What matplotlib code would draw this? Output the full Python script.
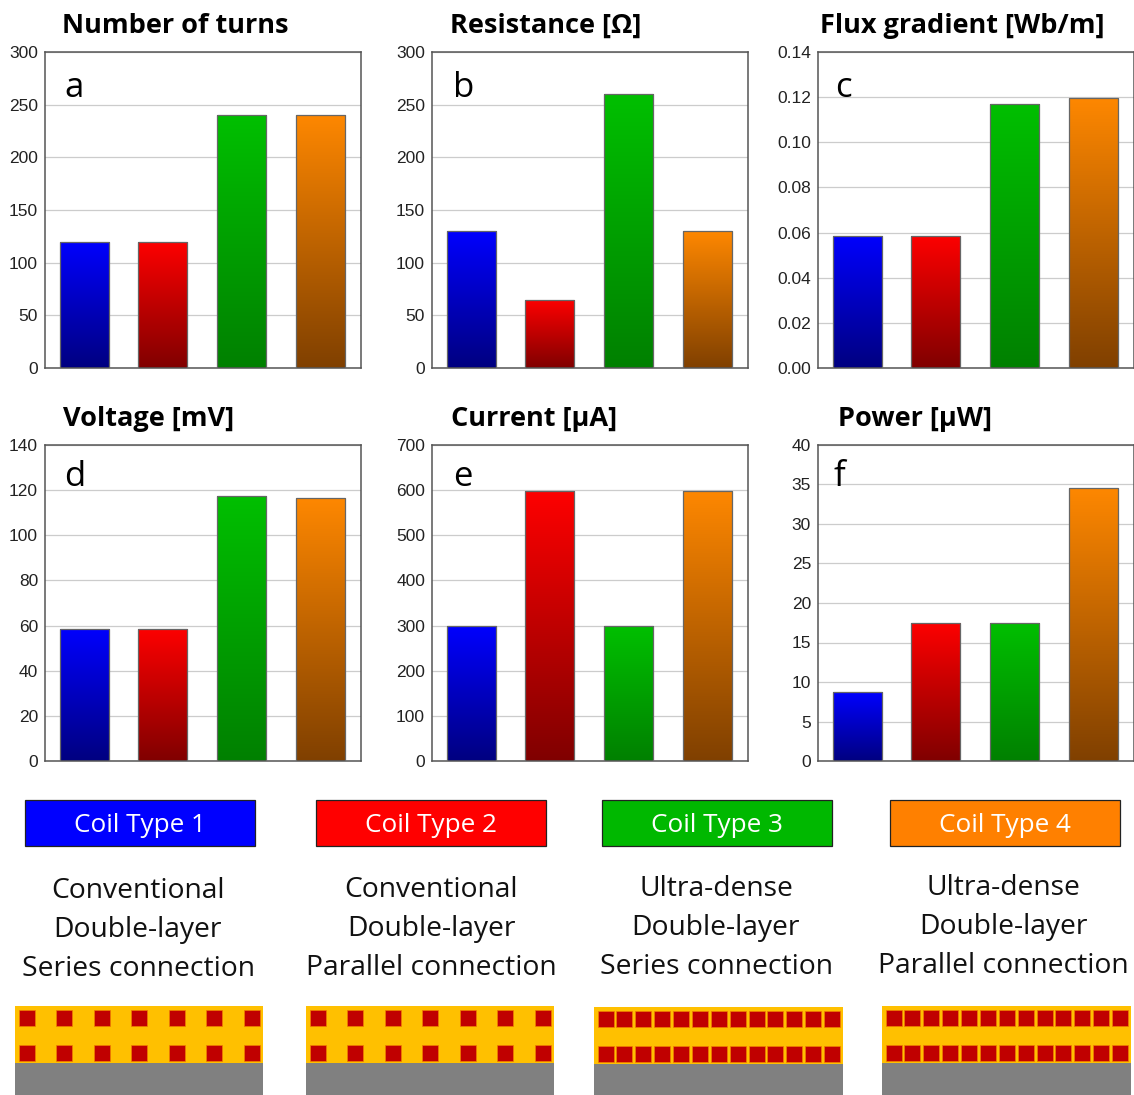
import matplotlib
matplotlib.use("Agg")
import matplotlib.pyplot as plt
import numpy as np
from matplotlib.colors import LinearSegmentedColormap
from matplotlib.patches import Rectangle

W, H = 1134, 1095

# ---------------------------------------------------------------------------
# Data
# ---------------------------------------------------------------------------
titles = ["Number of turns", "Resistance [Ω]", "Flux gradient [Wb/m]",
          "Voltage [mV]", "Current [µA]", "Power [µW]"]
letters = ["a", "b", "c", "d", "e", "f"]
turns = [120, 120, 240, 240]
resistance = [130, 65, 260, 130]
flux_gradient = [0.0585, 0.0585, 0.117, 0.1195]
voltage = [58.5, 58.5, 117.5, 116.5]
current = [298, 597, 298, 597]
power = [8.7, 17.5, 17.5, 34.5]
y_max = [300, 300, 0.14, 140, 700, 40]
y_step = [50, 50, 0.02, 20, 100, 5]
y_fmt = ["{:.0f}", "{:.0f}", "{:.2f}", "{:.0f}", "{:.0f}", "{:.0f}"]

coil_names = ["Coil Type 1", "Coil Type 2", "Coil Type 3", "Coil Type 4"]
coil_lines = [["Conventional", "Double-layer", "Series connection"],
              ["Conventional", "Double-layer", "Parallel connection"],
              ["Ultra-dense", "Double-layer", "Series connection"],
              ["Ultra-dense", "Double-layer", "Parallel connection"]]
coil_wires = [7, 7, 13, 13]

bar_top = ["#0000ff", "#ff0000", "#00c000", "#ff8800"]
bar_bottom = ["#000080", "#800000", "#008000", "#804000"]
box_colors = ["#0000ff", "#ff0000", "#00b800", "#ff8000"]

series = [turns, resistance, flux_gradient, voltage, current, power]

# ---------------------------------------------------------------------------
# Layout (pixels)
# ---------------------------------------------------------------------------
ax_x = [45, 432, 818]
ax_y = [52, 445]
ax_w, ax_h = 316, 316
title_x = [62, 450, 820, 63, 451, 838]
title_y = [26, 26, 26, 419, 419, 419]
letter_x = [64, 453, 835, 64, 453, 834]
letter_y = [88, 88, 88, 477, 477, 477]
box_x = [25, 316, 602, 890]
text_x = [138, 431, 716, 1003]
text_y = [891, 890, 889, 888]
sch_x = [15, 306, 594, 882]
sch_y = [1006, 1006, 1007, 1006]
sch_w = [248, 248, 249, 249]
wire_start = [18.5, 309.5, 597.5, 885.5]

fig = plt.figure(figsize=(W / 100, H / 100), dpi=100)

for i, vals in enumerate(series):
    row, col = i // 3, i % 3
    ax = fig.add_axes([ax_x[col] / W, 1 - (ax_y[row] + ax_h) / H, ax_w / W, ax_h / H])
    grad = np.linspace(0, 1, 256).reshape(-1, 1)
    xs = np.arange(4)
    bars = ax.bar(xs, vals, width=0.625, facecolor="none", edgecolor="#666666",
                  linewidth=0.9, zorder=3)
    for x, v, c0, c1, b in zip(xs, vals, bar_bottom, bar_top, bars):
        cmap = LinearSegmentedColormap.from_list("bar", [c0, c1])
        # image runs a little past the bar and is clipped, so no gap shows at the top
        im = ax.imshow(grad, cmap=cmap, origin="lower", aspect="auto", zorder=2,
                       extent=(x - 0.32, x + 0.32, 0, v * 1.01))
        im.set_clip_path(b)
    ax.set_xlim(-0.5, 3.52)
    ax.set_ylim(0, y_max[i])
    ticks = np.arange(0, y_max[i] + y_step[i] / 2, y_step[i])
    ax.set_yticks(ticks)
    ax.set_yticklabels([y_fmt[i].format(t) for t in ticks],
                       family="Liberation Sans", fontsize=12.5, color="#222222")
    ax.set_xticks([])
    ax.tick_params(axis="y", length=0, pad=5)
    ax.grid(True, axis="y", color="#cccccc", lw=0.9, zorder=1)
    ax.set_axisbelow(True)
    for s in ax.spines.values():
        s.set_color("#555555")
        s.set_linewidth(1.1)

# Overlay in pixel coordinates for labels and the coil legend/schematics
ov = fig.add_axes([0, 0, 1, 1], zorder=5)
ov.set_xlim(0, W)
ov.set_ylim(H, 0)
ov.axis("off")

for i in range(6):
    ov.text(title_x[i], title_y[i], titles[i], family="Open Sans", fontweight="bold",
            fontsize=19.5, ha="left", va="center", color="black")
    ov.text(letter_x[i], letter_y[i], letters[i], family="Open Sans",
            fontsize=25, ha="left", va="center", color="black")

for k in range(4):
    ov.add_patch(Rectangle((box_x[k], 800), 230, 46, facecolor=box_colors[k],
                           edgecolor="#222222", lw=0.9))
    ov.text(box_x[k] + 115, 825, coil_names[k], family="Open Sans", fontsize=18.8,
            color="white", ha="center", va="center")
    for j, line in enumerate(coil_lines[k]):
        ov.text(text_x[k], text_y[k] + 39 * j, line, family="Open Sans", fontsize=20.3,
                color="#111111", ha="center", va="center")

    # Cross-section: coil body, substrate, two rows of wires
    top = sch_y[k]
    ov.add_patch(Rectangle((sch_x[k], top), sch_w[k], 57, facecolor="#ffc000", lw=0))
    ov.add_patch(Rectangle((sch_x[k], top + 57), sch_w[k], 32, facecolor="#808080", lw=0))
    for wx in np.linspace(wire_start[k], wire_start[k] + sch_w[k] - 22.5, coil_wires[k]):
        for wy in (top + 3.5, top + 38.5):
            ov.add_patch(Rectangle((wx, wy), 16, 16, facecolor="#c00000",
                                   edgecolor="#f08000", lw=0.5))

fig.savefig("out.png", dpi=100)
